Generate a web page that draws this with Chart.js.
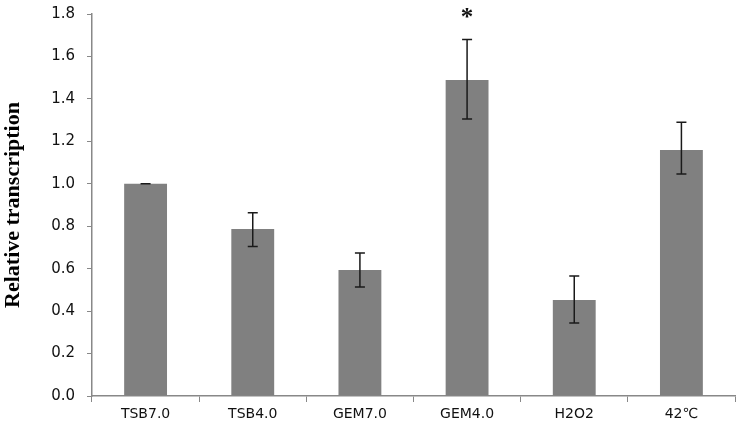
<!DOCTYPE html>
<html>
<head>
<meta charset="utf-8">
<script src="https://cdn.jsdelivr.net/npm/chart.js@4"></script>
<style>
  html, body { margin: 0; padding: 0; background: #fff; }
  #wrap { width: 744px; height: 437px; }
</style>
</head>
<body>
<div id="wrap"><canvas id="grafico"></canvas></div>
<script>
const categorias = ["TSB7.0", "TSB4.0", "GEM7.0", "GEM4.0", "H2O2", "42\u2103"]
const valores = [1.0, 0.787, 0.594, 1.489, 0.452, 1.159]
const errorArriba = [1.0, 0.863, 0.674, 1.68, 0.565, 1.29]
const errorAbajo = [1.0, 0.705, 0.514, 1.305, 0.344, 1.046]
const marcas = ["", "", "", "*", "", ""]

// barras de error y asteriscos
const errores = {
  id: "errores",
  afterDatasetsDraw(chart) {
    const ctx = chart.ctx
    const x = chart.scales.x
    const y = chart.scales.y
    ctx.save()
    ctx.strokeStyle = "#1a1a1a"
    ctx.lineWidth = 1.5
    valores.forEach((v, i) => {
      const cx = x.getPixelForValue(i)
      const yt = y.getPixelForValue(errorArriba[i])
      const yb = y.getPixelForValue(errorAbajo[i])
      ctx.beginPath()
      ctx.moveTo(cx, yt); ctx.lineTo(cx, yb)
      ctx.moveTo(cx - 5, yt); ctx.lineTo(cx + 5, yt)
      ctx.moveTo(cx - 5, yb); ctx.lineTo(cx + 5, yb)
      ctx.stroke()
      if (marcas[i]) {
        ctx.fillStyle = "#111"
        ctx.font = "bold 25px 'Liberation Serif'"
        ctx.textAlign = "center"
        ctx.textBaseline = "middle"
        ctx.fillText(marcas[i], cx, yt - 21)
      }
    })
    ctx.restore()
  }
}

const barras = document.getElementById("grafico")

new Chart(barras, {
  type: "bar",
  data: {
    labels: categorias,
    datasets: [
      {
        label: "Relative transcription",
        data: valores,
        backgroundColor: "#808080",
        borderWidth: 0,
        categoryPercentage: 1.0,
        barPercentage: 0.4,
      },
    ],
  },
  options: {
    responsive: true,
    maintainAspectRatio: false,
    animation: false,
    layout: { padding: { top: 14, right: 9, left: 0, bottom: 0 } },
    plugins: {
      legend: { display: false },
      tooltip: { enabled: false },
    },
    scales: {
      x: {
        grid: { drawOnChartArea: false, color: "#888", tickLength: 6, offset: true },
        border: { color: "#888", width: 1.5 },
        ticks: { color: "#111", font: { family: "'DejaVu Sans'", size: 14 }, padding: 4, maxRotation: 0 },
        afterFit: (s) => { s.height = 41; s.paddingLeft = 0; s.paddingRight = 0 },
      },
      y: {
        min: 0,
        max: 1.8,
        grid: { drawOnChartArea: false, color: "#888", tickLength: 5 },
        border: { color: "#888", width: 1.5 },
        ticks: {
          stepSize: 0.2,
          color: "#111",
          font: { family: "'DejaVu Sans'", size: 15 },
          padding: 12,
          callback: (v) => v.toFixed(1),
        },
        title: {
          display: true,
          text: "Relative transcription",
          color: "#000",
          font: { family: "'Liberation Serif'", size: 22, weight: "bold" },
          padding: 0,
        },
        afterFit: (s) => { s.width = 92; s.paddingTop = 0; s.paddingBottom = 0 },
      },
    },
  },
  plugins: [errores],
})
</script>
</body>
</html>
